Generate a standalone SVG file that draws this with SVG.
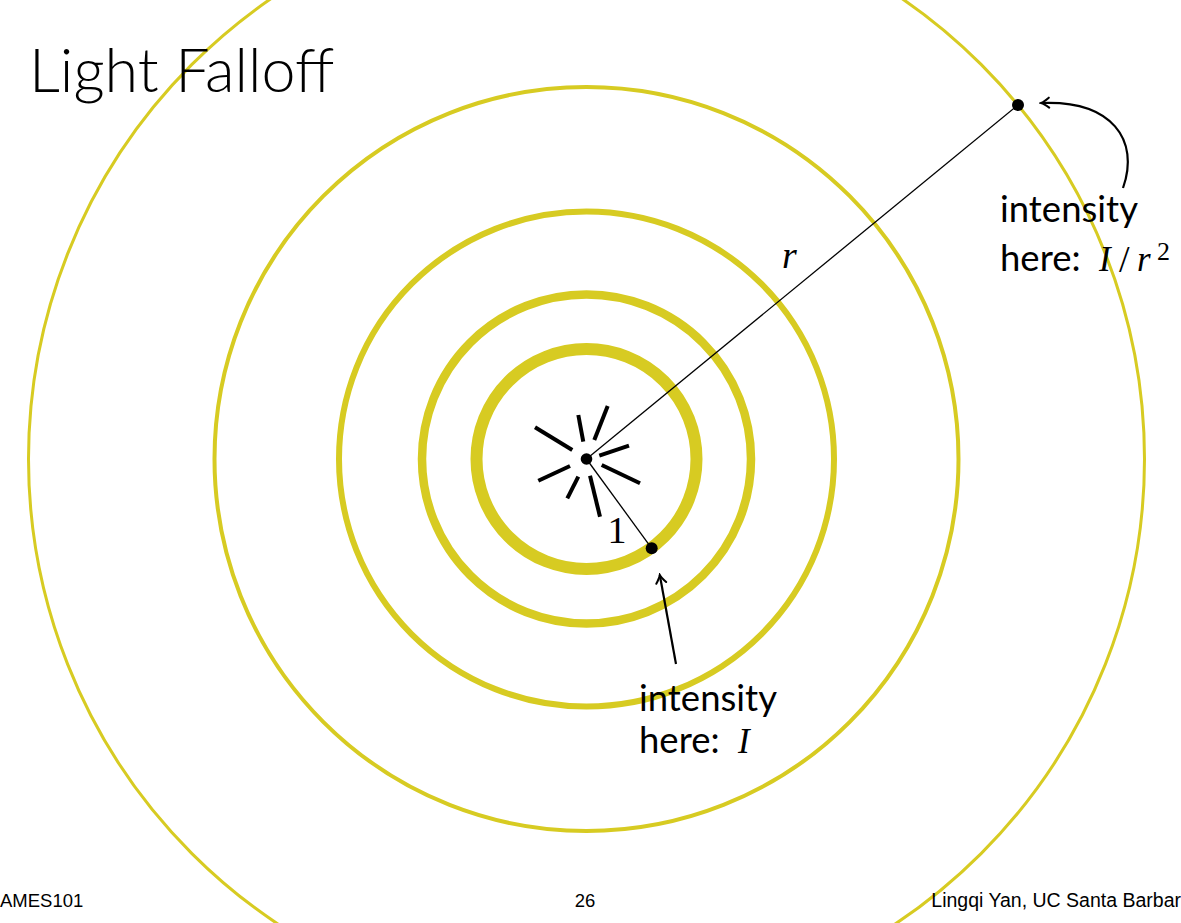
<svg xmlns="http://www.w3.org/2000/svg" width="1181" height="923" viewBox="0 0 1181 923">
<style>
.ring{fill:none;stroke:#d7cb22}
.ray{stroke:#000;stroke-width:4;stroke-linecap:butt}
.thin{stroke:#000;stroke-width:1.3;fill:none}
.arrow{stroke:#000;stroke-width:2.2;fill:none;marker-end:url(#arr)}
.lbl{font-family:Lato,"Open Sans",sans-serif;font-size:36.5px;fill:#000}
.math{font-family:"Liberation Serif",serif;font-style:italic;fill:#000}
.foot{font-family:"Liberation Sans",Arial,sans-serif;font-size:18.5px;fill:#000}
</style>
<defs>
<marker id="arr" viewBox="-10 -7 12 14" refX="0" refY="0" markerWidth="12" markerHeight="14" markerUnits="userSpaceOnUse" orient="auto">
<path d="M-8,-5 Q-3,-1 0,0 Q-3,1 -8,5" fill="none" stroke="#000" stroke-width="2" stroke-linecap="round"/>
</marker>
</defs>
<rect width="1181" height="923" fill="#fff"/>
<g id="rings">
<circle class="ring" cx="586.5" cy="459" r="110" stroke-width="12"/>
<circle class="ring" cx="586.5" cy="459" r="164.5" stroke-width="8.5"/>
<circle class="ring" cx="586.5" cy="459" r="247.5" stroke-width="6"/>
<circle class="ring" cx="586.5" cy="459" r="372" stroke-width="4"/>
<circle class="ring" cx="586.5" cy="459" r="558" stroke-width="3"/>
</g>
<text x="29" y="92" style="font-family:Lato,sans-serif;font-weight:300;font-size:61px;fill:#000">Light Falloff</text>
<g id="source">
<line class="ray" x1="535" y1="427.3" x2="572.3" y2="450"/>
<line class="ray" x1="578.3" y1="415" x2="583.3" y2="441.7"/>
<line class="ray" x1="607.7" y1="406" x2="594.3" y2="440"/>
<line class="ray" x1="599.3" y1="455.7" x2="629" y2="445.7"/>
<line class="ray" x1="601.7" y1="465" x2="640" y2="483.3"/>
<line class="ray" x1="590" y1="475.7" x2="600" y2="516.7"/>
<line class="ray" x1="578.3" y1="476.7" x2="567.3" y2="498.3"/>
<line class="ray" x1="570" y1="466" x2="538.3" y2="480.7"/>
<circle cx="586.5" cy="459" r="5.8" fill="#000"/>
</g>
<g id="connectors">
<line class="thin" x1="586.5" y1="459" x2="1018" y2="105"/>
<line class="thin" x1="586.5" y1="459" x2="651.7" y2="548.3"/>
<path class="arrow" d="M676,664 L659.8,575"/>
<path class="arrow" d="M1123,188 C1140,140 1112,100 1041,103"/>
</g>
<g id="near-point">
<circle cx="651.7" cy="548.3" r="6" fill="#000"/>
<text x="617" y="543" text-anchor="middle" style="font-family:'Liberation Serif',serif;font-size:38px;fill:#000">1</text>
<text class="lbl" x="639" y="711">intensity</text>
<text class="lbl" x="639" y="753">here:</text>
<text class="math" x="738" y="753" font-size="35">I</text>
</g>
<g id="far-point">
<circle cx="1018" cy="105" r="6" fill="#000"/>
<text class="math" x="782" y="268" font-size="38">r</text>
<text class="lbl" x="1000" y="222">intensity</text>
<text class="lbl" x="1000" y="271">here:</text>
<text class="math" x="1099" y="271" font-size="35">I</text>
<text x="1119" y="272" style="font-family:'Liberation Serif',serif;font-size:38px;fill:#000">/</text>
<text class="math" x="1137" y="271" font-size="35">r</text>
<text x="1157" y="260" style="font-family:'Liberation Serif',serif;font-size:26px;fill:#000">2</text>
</g>
<g id="footer">
<text class="foot" x="0" y="907">AMES101</text>
<text class="foot" x="585" y="907" text-anchor="middle">26</text>
<text class="foot" x="1181" y="907" text-anchor="end" style="font-size:19.5px">Lingqi Yan, UC Santa Barbar</text>
</g>
</svg>
